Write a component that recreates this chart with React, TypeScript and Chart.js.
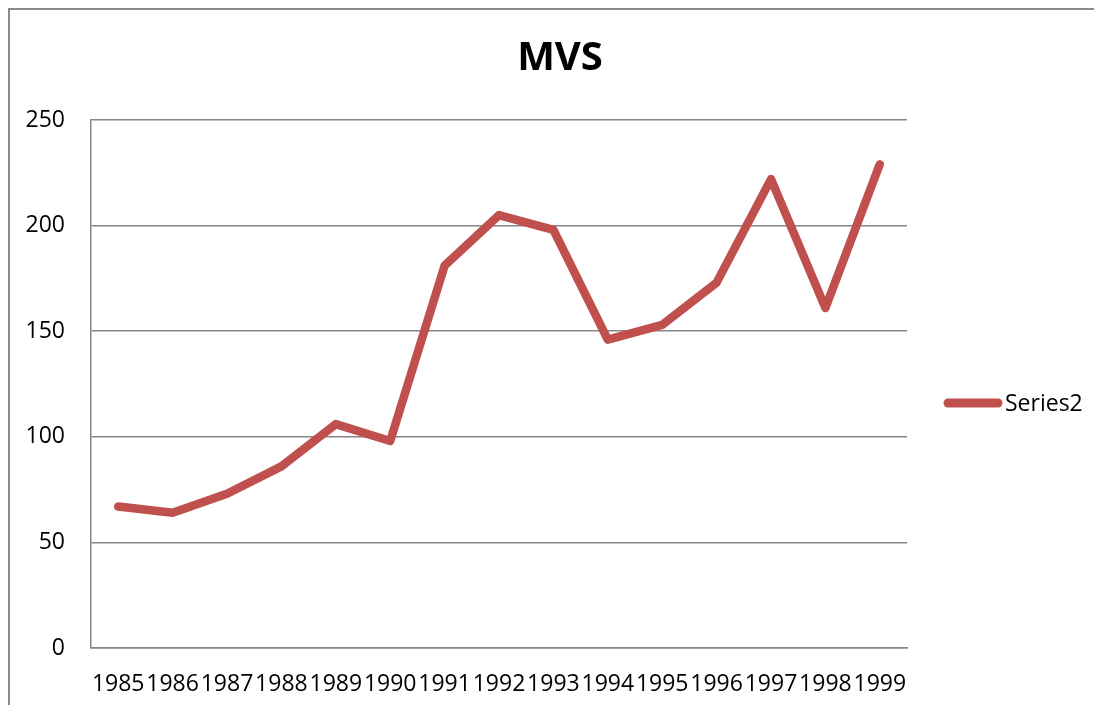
import React, { useEffect, useRef } from "react";
import { Chart, registerables } from "chart.js";

Chart.register(...registerables);

const years: string[] = [
  "1985", "1986", "1987", "1988", "1989", "1990", "1991", "1992",
  "1993", "1994", "1995", "1996", "1997", "1998", "1999",
];
const series2: number[] = [67, 64, 73, 86, 106, 98, 181, 205, 198, 146, 153, 173, 222, 161, 229];
const yTicks: number[] = [0, 50, 100, 150, 200, 250];

const FONT = "'Open Sans', 'Liberation Sans', sans-serif";
const LINE_COLOR = "#C0504D";
const GRID_COLOR = "#868686";

const sideLegend = {
  id: "sideLegend",
  afterDraw(chart: any) {
    const ctx = chart.ctx;
    const ds = chart.data.datasets[0];
    const y = 393;
    ctx.save();
    ctx.strokeStyle = ds.borderColor;
    ctx.lineWidth = 9;
    ctx.lineCap = "round";
    ctx.beginPath();
    ctx.moveTo(938, y);
    ctx.lineTo(988, y);
    ctx.stroke();
    ctx.fillStyle = "#000";
    ctx.font = `23px ${FONT}`;
    ctx.textBaseline = "middle";
    ctx.textAlign = "left";
    ctx.fillText(ds.label, 995, y + 1);
    ctx.restore();
  },
};

export default function App() {
  const ref = useRef<HTMLCanvasElement | null>(null);
  useEffect(() => {
    if (!ref.current) return;
    const chart = new Chart(ref.current, {
      type: "line",
      data: {
        labels: years,
        datasets: [
          {
            label: "Series2",
            data: series2,
            borderColor: LINE_COLOR,
            backgroundColor: LINE_COLOR,
            borderWidth: 8.5,
            borderCapStyle: "round",
            borderJoinStyle: "round",
            pointRadius: 0,
            tension: 0,
            fill: false,
          },
        ],
      },
      options: {
        animation: false,
        responsive: false,
        maintainAspectRatio: false,
        layout: { padding: { left: 16, right: 0, top: 0, bottom: 0 } },
        plugins: {
          legend: { display: false },
          tooltip: { enabled: false },
          title: {
            display: true,
            text: "MVS",
            color: "#000",
            font: { family: FONT, size: 40, weight: "bold" },
            padding: { top: 25, bottom: 37 },
          },
        },
        scales: {
          x: {
            offset: true,
            grid: { display: false, drawTicks: false, offset: true },
            border: { display: true, color: GRID_COLOR, width: 1.5 },
            ticks: {
              autoSkip: false,
              maxRotation: 0,
              minRotation: 0,
              color: "#000",
              font: { family: FONT, size: 23 },
              padding: 23,
            },
            afterFit: (scale: any) => {
              scale.height = 57;
            },
          },
          y: {
            min: 0,
            max: 250,
            afterBuildTicks: (scale: any) => {
              scale.ticks = yTicks.map((v) => ({ value: v }));
            },
            grid: { color: GRID_COLOR, lineWidth: 1.5, drawTicks: false },
            border: { display: true, color: GRID_COLOR, width: 1.5 },
            ticks: {
              color: "#000",
              font: { family: FONT, size: 23 },
              padding: 26,
            },
            afterFit: (scale: any) => {
              scale.width = 65;
            },
          },
          legendSpace: {
            type: "linear",
            position: "right",
            display: true,
            grid: { display: false, drawTicks: false },
            border: { display: false },
            ticks: { display: false },
            afterFit: (scale: any) => {
              scale.width = 187;
            },
          },
        },
      },
      plugins: [sideLegend],
    } as any);
    return () => chart.destroy();
  }, []);

  return (
    <div
      style={{
        width: 1084,
        height: 695,
        borderTop: "2px solid #8a8a8a",
        borderLeft: "2px solid #8a8a8a",
        overflow: "hidden",
        background: "#fff",
      }}
    >
      <canvas ref={ref} width={1084} height={695} style={{ display: "block" }} />
    </div>
  );
}
